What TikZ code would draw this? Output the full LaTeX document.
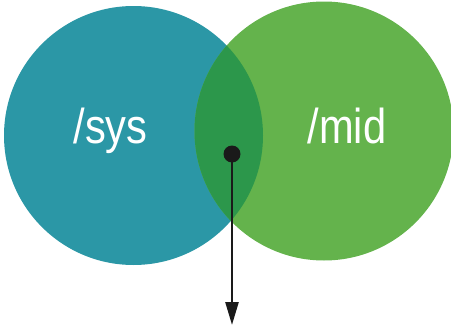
\documentclass[tikz,border=0pt]{standalone}
\usepackage{fontspec}
\setmainfont[FakeStretch=0.85]{Liberation Sans}
\usetikzlibrary{arrows.meta}
\definecolor{teal}{HTML}{2B97A6}
\definecolor{lgreen}{HTML}{64B34C}
\definecolor{dgreen}{HTML}{2C974B}
\definecolor{ink}{HTML}{1A1A1A}
\begin{document}
\begin{tikzpicture}[x=1pt,y=-1pt,
  setbox/.style={circle, inner sep=0pt, minimum size=259pt},
  label/.style={text=white, font=\fontsize{49}{49}\selectfont, anchor=base, inner sep=0pt}]
\useasboundingbox (0,0) rectangle (451,327);
\node[setbox, fill=teal] (sys) at (133.5,135.5) {};
\node[setbox, fill=lgreen] (mid) at (324,131) {};
\begin{scope}
  \clip (133.5,135.5) circle (129.5pt);
  \fill[dgreen] (324,131) circle (129.5pt);
\end{scope}
\node[label] (tsys) at (110.5,143) {/sys};
\node[label] (tmid) at (347,143) {/mid};
\node[circle, fill=ink, inner sep=0pt, minimum size=17pt] (dot) at (232,154) {};
\coordinate (end) at (232,325);
\draw[ink, line width=2.5pt, -{Triangle[width=13pt,length=23pt]}] (dot.center) -- (end);
\end{tikzpicture}
\end{document}
